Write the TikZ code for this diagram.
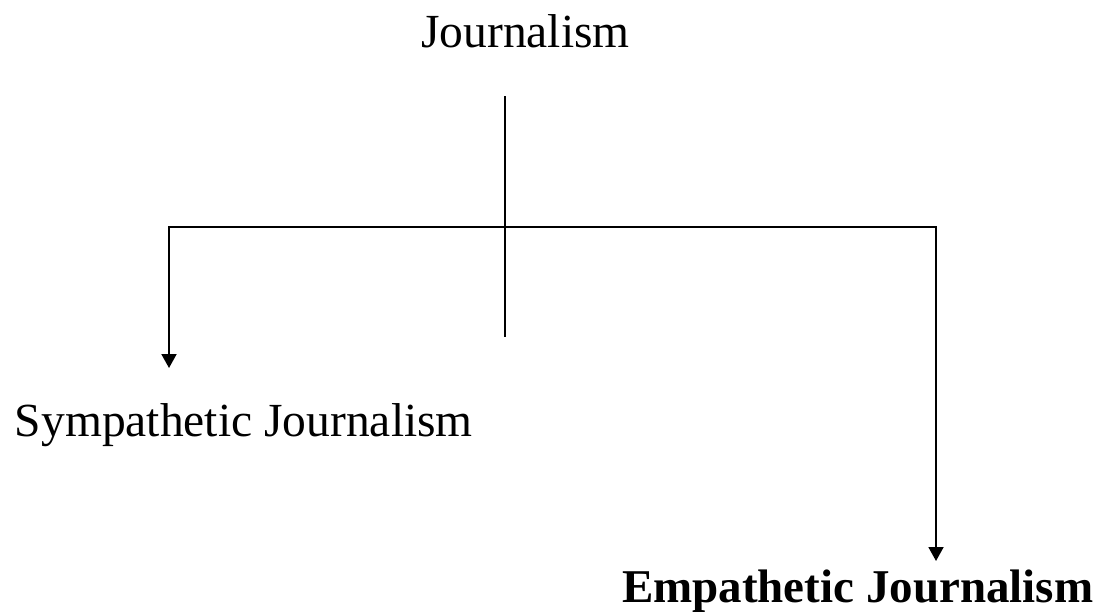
\documentclass[tikz,border=0pt]{standalone}
\usepackage{fontspec}
\setmainfont{Liberation Serif}
\usetikzlibrary{arrows.meta}
\begin{document}
\begin{tikzpicture}[x=1pt,y=-1pt,
  lbl/.style={inner sep=0pt,outer sep=0pt,font=\fontsize{47.5}{56}\selectfont},
  conn/.style={line width=1.9pt,draw=black},
  arr/.style={conn,-{Triangle[length=14pt,width=15pt]}}]
\useasboundingbox (0,0) rectangle (1101,611);
\node[lbl,anchor=base] (top) at (525.5,47) {Journalism};
\node[lbl,anchor=base west] (sym) at (15,436) {Sympathetic Journalism};
\node[lbl,anchor=base west,font=\fontsize{47}{56}\selectfont\bfseries] (emp) at (622,602) {Empathetic Journalism};
\coordinate (vtop) at (505,96);
\coordinate (vbot) at (505,337);
\coordinate (hl) at (169,227);
\coordinate (hr) at (936,227);
\coordinate (ltip) at (169,368);
\coordinate (rtip) at (936,561);
\draw[conn] (vtop) -- (vbot);
\draw[conn,line cap=rect] (hl) -- (hr);
\draw[arr] (hl) -- (ltip);
\draw[arr] (hr) -- (rtip);
\end{tikzpicture}
\end{document}
